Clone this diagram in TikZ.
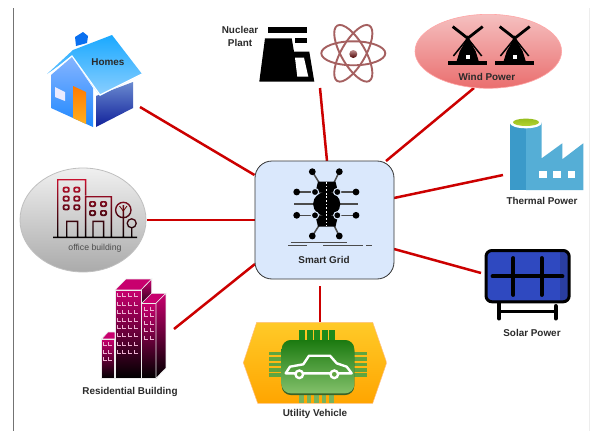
\documentclass[tikz,border=0pt]{standalone}
\usepackage{fontspec}
\setmainfont{Liberation Sans}
\definecolor{wire}{HTML}{CC0000}
\definecolor{hubfill}{HTML}{DAE8FC}
\definecolor{txt}{HTML}{2A2A2A}
\definecolor{bldtop}{HTML}{C8006E}
\definecolor{redtop}{HTML}{C8102E}
\definecolor{atomc}{HTML}{A56060}
\definecolor{pinc}{HTML}{5FA540}
\definecolor{chim}{HTML}{0A70F0}
\definecolor{frontT}{HTML}{85B4FF}
\definecolor{frontB}{HTML}{1E88FF}
\definecolor{sideT}{HTML}{6A8AD0}
\definecolor{sideB}{HTML}{10209A}
\definecolor{roofT}{HTML}{1AA9FF}
\definecolor{roofB}{HTML}{8CCFFF}
\definecolor{doorT}{HTML}{FF7A00}
\definecolor{doorB}{HTML}{FFB020}
\definecolor{windT}{HTML}{F5C0C0}
\definecolor{windB}{HTML}{EA6E6E}
\definecolor{factL}{HTML}{55AED6}
\definecolor{factD}{HTML}{3B9AC9}
\definecolor{greenT}{HTML}{96BE1E}
\definecolor{greenB}{HTML}{B4D232}
\definecolor{solarB}{HTML}{2F49C0}
\definecolor{solarD}{HTML}{2A3EA0}
\definecolor{hexT}{HTML}{FFCA28}
\definecolor{hexB}{HTML}{FFA500}
\definecolor{chipT}{HTML}{1B7A10}
\definecolor{chipB}{HTML}{82C06A}
\definecolor{pinT}{HTML}{1F8A1A}
\tikzset{
  conn/.style={draw=wire,line width=2.5pt},
  lab/.style={font=\bfseries\fontsize{9.9}{11.5}\selectfont,text=txt,inner sep=0pt,align=center},
  bld/.style={top color=bldtop,bottom color=black,draw=white!85!gray,line width=0.6pt},
  bldroof/.style={fill=bldtop,draw=white!85!gray,line width=0.6pt},
  winmark/.style={draw=white!70!bldtop,line width=0.6pt},
  dot/.style={fill=black,draw=none},
  iconline/.style={draw=black!70,line width=1.2pt},
  orbit/.style={draw=atomc,line width=1.9pt},
  blade/.style={draw=black,line width=2.8pt},
}
\begin{document}
\begin{tikzpicture}[x=1pt,y=-1pt]
\useasboundingbox (0,0) rectangle (590,431);
\fill[white] (0,0) rectangle (590,431);
\draw[draw=black!55,line width=1pt] (13.5,8) -- (13.5,431);
\draw[draw=black!7,line width=1pt] (589,8) -- (589,431);

% ---------- connectors' ends
\coordinate (homesEnd) at (140,107);
\coordinate (hubHomes) at (254.5,175);
\coordinate (nucEnd) at (320,88);
\coordinate (hubNuc) at (327,161);
\coordinate (windEnd) at (474,88);
\coordinate (hubWind) at (386,161);
\coordinate (thermEnd) at (503,175);
\coordinate (hubTherm) at (394,198);
\coordinate (solarEnd) at (481,273);
\coordinate (hubSolar) at (394,249);
\coordinate (utilEnd) at (320,322);
\coordinate (utilStart) at (320,286);
\coordinate (resEnd) at (174,329);
\coordinate (hubRes) at (255,264);
\coordinate (officeEnd) at (147,220);
\coordinate (hubOffice) at (254.5,220);
\draw[conn] (homesEnd) -- (hubHomes);
\draw[conn] (nucEnd) -- (hubNuc);
\draw[conn] (windEnd) -- (hubWind);
\draw[conn] (thermEnd) -- (hubTherm);
\draw[conn] (solarEnd) -- (hubSolar);
\draw[conn] (utilEnd) -- (utilStart);
\draw[conn] (resEnd) -- (hubRes);
\draw[conn] (officeEnd) -- (hubOffice);

% ---------- hub
\node[draw=black!80,fill=hubfill,rounded corners=17pt,line width=0.8pt,minimum width=139pt,minimum height=118pt,inner sep=0pt] (hub) at (324.5,220) {};
\draw[iconline] (294.3,204) -- (358.3,204);
\foreach \y in {192,215.3}{
  \draw[iconline] (296.7,\y) -- (356,\y);
  \fill[dot] (296.7,\y) circle[radius=3.4];
  \fill[dot] (356,\y) circle[radius=3.4];
}
\draw[iconline,line width=1.5pt] (312.3,171.7) -- (320,184);
\draw[iconline,line width=1.5pt] (339.3,171.7) -- (333.3,184);
\draw[iconline,line width=1.5pt] (312.3,236) -- (320,224);
\draw[iconline,line width=1.5pt] (339.3,236) -- (333.3,224);
\foreach \x/\y in {312.3/171.7,339.3/171.7,312.3/236,339.3/236}{\fill[dot] (\x,\y) circle[radius=3.4];}
\fill[black] (318,181.5) -- (335.5,181.5) -- (338,192) -- (315.5,192) -- cycle;
\fill[black] (315.5,216) -- (338,216) -- (335.5,226.7) -- (318,226.7) -- cycle;
\fill[black] (326.7,204) ellipse[x radius=13.6,y radius=12.4];
\foreach \x in {315,337.3}\foreach \y in {192,215.3}{
  \fill[dot,draw=hubfill,line width=1pt] (\x,\y) circle[radius=3.6];
}
\draw[white,line width=1.1pt,dash pattern=on 1.8pt off 1.8pt] (326.7,182) -- (326.7,226);
\draw[iconline,line width=1pt] (290.7,242.3) -- (347.3,242.3);
\draw[iconline,line width=1pt] (288.3,245.7) -- (307.3,245.7);
\draw[iconline,line width=1pt] (323.3,245.7) -- (363.3,245.7);
\draw[iconline,line width=1pt] (366,245.7) -- (372,245.7);
\node[lab] (hubLabel) at (324,260) {Smart Grid};

% ---------- homes
\fill[chim] (75,37) -- (83,32) -- (88,36) -- (87,43) -- (76,46) -- cycle;
\shade[top color=frontT,bottom color=frontB] (51,75) -- (72,57) -- (93,88) -- (93,127) -- (51,108) -- cycle;
\shade[top color=sideT,bottom color=sideB] (96,96) -- (133,82) -- (133,108) -- (96,127) -- cycle;
\shade[top color=roofT,bottom color=roofB] (73,50) -- (112,35) -- (142,74) -- (100,96) -- (72,57) -- (47,74) -- cycle;
\draw[white,line width=1.2pt] (47,76) -- (72,56) -- (100,95) -- (142,74);
\shade[top color=doorT,bottom color=doorB] (73,86) -- (86,92) -- (86,124) -- (73,118) -- cycle;
\fill[white!92!blue] (55,87) -- (65,92) -- (65,101) -- (55,97) -- cycle;
\draw[white,line width=1.2pt] (94.5,93) -- (94.5,127);
\node[lab] (homesLabel) at (108,62) {Homes};

% ---------- office
\shade[top color=black!6,bottom color=black!33,draw=black!25,line width=0.8pt] (83,220) ellipse[x radius=63,y radius=52];
\shade[even odd rule,top color=redtop,bottom color=black]
  (57,179) rectangle (86.3,180.4)
  (57,180.4) rectangle (58.4,236.6)
  (84.9,180.4) rectangle (86.3,195.6)
  (84.9,196) rectangle (112,197.4)
  (84.9,197.4) rectangle (86.3,236.6)
  (110.6,197.4) rectangle (112,236.6)
  (66,220.7) rectangle (78.3,222.1)
  (66,222.1) rectangle (67.4,236.6)
  (76.9,222.1) rectangle (78.3,236.6)
  (92.3,220.7) rectangle (104.3,222.1)
  (92.3,222.1) rectangle (93.7,236.6)
  (102.9,222.1) rectangle (104.3,236.6)
  (123.3,210) circle[radius=8.4] (123.3,210) circle[radius=7]
  (131.7,223.3) circle[radius=5.2] (131.7,223.3) circle[radius=3.8]
  (122.6,218.4) rectangle (124,236.6)
  (122.6,205) rectangle (124,216.8)
  (131,228.5) rectangle (132.4,236.6)
  (53,236.6) rectangle (137,238.2)
  \foreach \x/\y in {62.7/186.7,73.3/186.7,62.7/195.7,73.3/195.7,62.7/204.3,73.3/204.3,89/201,100/201,89/210,100/210}{
    {[rounded corners=2pt] (\x,\y) rectangle +(7,6) ({\x+1.4},{\y+1.4}) rectangle +(4.2,3.2)}
  };
\draw[draw=black!60!red,line width=0.8pt] (119.5,206) -- (123.3,211) -- (127,206);
\node[font=\fontsize{8.7}{10}\selectfont,text=black!70,inner sep=0pt] (officeLabel) at (95,248) {office building};

% ---------- residential
\fill[bldroof] (101.7,339) -- (108,332) -- (115,332) -- (115,339) -- cycle;
\shade[bld] (101.7,339) rectangle (114,378.3);
\fill[bldroof] (115,290) -- (126,279) -- (151.7,279) -- (141,290) -- cycle;
\shade[bld] (141,290) -- (151.7,279) -- (151.7,300) -- (141,310) -- cycle;
\shade[bld] (115,290) rectangle (141,378.3);
\fill[bldroof] (141.7,303.3) -- (151.7,293.3) -- (166,293.3) -- (156,303.3) -- cycle;
\shade[bld] (141.7,303.3) rectangle (156,378.3);
\shade[bld] (156,303.3) -- (166,293.3) -- (166,368) -- (156,378.3) -- cycle;
\foreach \y in {296.7,305,313.3,321,328.3,336.7,345,353.3}{
  \foreach \x in {117,122.7,128.7,134.7}{
    \draw[winmark] (\x,{\y-3.3}) -- (\x,\y) -- ({\x+3.6},\y);
  }
}
\foreach \y in {310,316.7,324.3,331.7,339}{
  \foreach \x in {144.3,150}{
    \draw[winmark] (\x,{\y-3.3}) -- (\x,\y) -- ({\x+3.6},\y);
  }
}
\foreach \y in {345.7,353.3,360.7}{
  \foreach \x in {103.3,108.3}{
    \draw[winmark] (\x,{\y-3.3}) -- (\x,\y) -- ({\x+3.6},\y);
  }
}
\node[lab] (resLabel) at (130,392) {Residential Building};

% ---------- nuclear
\fill[black] (267.7,27.3) rectangle (306.7,32.7);
\fill[black] (295,38.3) rectangle (306.7,43.3);
\fill[black] (265,38.3) -- (291.7,38.3) -- (294,51.7) -- (309.3,51.7) -- (314.3,81.7) -- (259.3,81.7) -- cycle;
\fill[white] (295,57.7) -- (304,57.7) -- (308.3,76.7) -- (297.3,76.7) -- cycle;
\node[lab] (nucLabel) at (240,36.5) {Nuclear\\[1pt]Plant};
\draw[orbit] (353.3,53.3) ellipse[x radius=32,y radius=12];
\draw[orbit,rotate around={60:(353.3,53.3)}] (353.3,53.3) ellipse[x radius=32,y radius=12];
\draw[orbit,rotate around={-60:(353.3,53.3)}] (353.3,53.3) ellipse[x radius=32,y radius=12];
\shade[top color=atomc!70,bottom color=black!70!red] (353.3,54) circle[radius=4];

% ---------- wind
\shade[top color=windT,bottom color=windB,draw=red!35!white,line width=0.6pt] (488.3,51.3) ellipse[x radius=73.3,y radius=37];
\foreach \c in {467.7,514.7}{
  \begin{scope}[shift={(\c,38.3)}]
    \draw[blade] (-15,-11.7) -- (0,0);
    \draw[blade] (15,-11.7) -- (0,0);
    \draw[blade,line width=1.5pt] (0,0) -- (14,17.7);
    \draw[blade,line width=1.5pt] (0,0) -- (-14.3,17.7);
    \fill[black] (-11,22.7) -- (-8,13) -- (-4,6) -- (0,-3) -- (4,6) -- (8,13) -- (11,22.7) -- cycle;
    \fill[black] (-19.4,22.7) rectangle (19.6,26.4);
    \fill[white] (-2.2,16.7) rectangle (2.2,21);
  \end{scope}
}
\node[lab] (windLabel) at (487,77) {Wind Power};

% ---------- thermal
\fill[factD] (510,122.7) rectangle (526,190);
\fill[factL] (526,122.7) -- (541.7,122.7) -- (541.7,158.3) -- (562.3,143.3) -- (562.3,159.3) -- (583.3,143.3) -- (583.3,190) -- (526,190) -- cycle;
\fill[white] (525.8,123) ellipse[x radius=15.9,y radius=5.3];
\shade[top color=greenT,bottom color=greenB] (526,122.3) ellipse[x radius=13,y radius=3.7];
\fill[white] (538.7,170.7) rectangle (546.7,178.3);
\fill[white] (553.3,170.7) rectangle (561,178.3);
\fill[white] (567.7,170.7) rectangle (575.3,178.3);
\node[lab] (thermLabel) at (542,201) {Thermal Power};

% ---------- solar
\draw[black,line width=4pt,line cap=round] (499.3,303) -- (499.3,318.5);
\draw[black,line width=4pt,line cap=round] (555.7,306) -- (555.7,318.5);
\draw[black,line width=3pt] (499,311.7) -- (556,311.7);
\fill[solarD,rounded corners=6pt] (486,250.5) rectangle (569.2,301.8);
\fill[solarB] (487,252) rectangle (560,300.3);
\draw[black,line width=3pt,rounded corners=6pt] (486,250.5) rectangle (569.2,301.8);
\draw[black,line width=3.8pt,line cap=round] (513.3,258) -- (513.3,295);
\draw[black,line width=3.8pt,line cap=round] (541.7,258) -- (541.7,295);
\draw[black,line width=3.8pt,line cap=round] (492.5,276.3) -- (562.5,276.3);
\node[lab] (solarLabel) at (532,333) {Solar Power};

% ---------- utility
\shade[top color=hexT,bottom color=hexB,draw=orange!50!white,line width=0.5pt] (243.3,362.7) -- (256.7,322.3) -- (372.7,322.3) -- (386.7,362.7) -- (372.7,403.3) -- (257.7,403.3) -- cycle;
\foreach \x in {299,306.5,314,321.5,329}{
  \fill[pinT] (\x,330) rectangle ({\x+6},342);
  \fill[pinc!85!white] (\x,390) rectangle ({\x+4.5},402.5);
}
\foreach \y in {351.7,357.1,362.5,367.9,373.3}{
  \fill[pinc] (269.3,\y) rectangle (283,{\y+3.6});
  \fill[pinc] (353,\y) rectangle (366.7,{\y+3.6});
}
\fill[pinc!60!black,rounded corners=9pt] (281.7,342) rectangle (354.3,395);
\shade[top color=chipT,bottom color=chipB,rounded corners=9pt] (281.7,340) rectangle (354.3,393.3);
\draw[white,line width=2.4pt,line join=round] (285.7,373.3) -- (290,366.7) -- (303.3,364.3) -- (309,355.7) -- (330,355.7) -- (336.7,363.3) -- (346.7,366.7) -- (351.7,373.3) -- cycle;
\draw[white,fill=pinc,line width=2.4pt] (299.3,374.3) circle[radius=3.8];
\draw[white,fill=pinc,line width=2.4pt] (334.3,374.3) circle[radius=3.8];
\node[lab] (utilLabel) at (315,414) {Utility Vehicle};
\end{tikzpicture}
\end{document}
